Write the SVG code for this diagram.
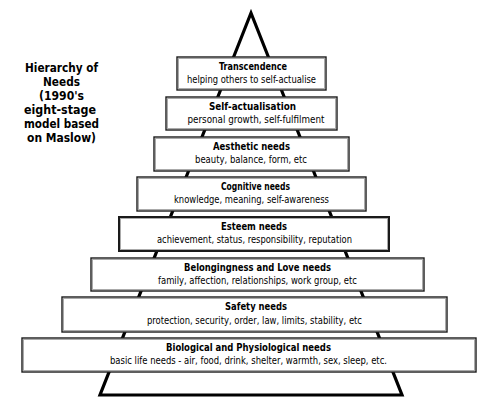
<svg xmlns="http://www.w3.org/2000/svg" width="498" height="412" viewBox="0 0 498 412">
<style>
.box{fill:#fff;stroke:#1a1a1a;stroke-width:1.4}
.inner{fill:none;stroke:#aaa;stroke-width:1}
.t{font-family:"DejaVu Sans Condensed","DejaVu Sans",Verdana,sans-serif;font-weight:bold;font-size:10px;text-anchor:middle;fill:#000}
.s{font-family:"DejaVu Sans Condensed","DejaVu Sans",Verdana,sans-serif;font-size:10px;text-anchor:middle;fill:#000}
.title{font-family:"DejaVu Sans Condensed","DejaVu Sans",Verdana,sans-serif;font-weight:bold;font-size:13px;text-anchor:middle;fill:#000}
</style>
<rect width="498" height="412" fill="#fff"/>
<g id="connectors">
<polygon points="251,13 100,395 402,395" fill="none" stroke="#000" stroke-width="3.2" stroke-linejoin="miter"/>
</g>
<g id="title">
<text class="title" x="61.5" y="72" textLength="73" lengthAdjust="spacingAndGlyphs">Hierarchy of</text>
<text class="title" x="61.5" y="86" textLength="37" lengthAdjust="spacingAndGlyphs">Needs</text>
<text class="title" x="61.5" y="100" textLength="45" lengthAdjust="spacingAndGlyphs">(1990's</text>
<text class="title" x="60" y="114" textLength="72" lengthAdjust="spacingAndGlyphs">eight-stage</text>
<text class="title" x="61.5" y="128" textLength="75" lengthAdjust="spacingAndGlyphs">model based</text>
<text class="title" x="61.5" y="142" textLength="69" lengthAdjust="spacingAndGlyphs">on Maslow)</text>
</g>
<g id="transcendence">
<rect class="box" x="177" y="57" width="149" height="33"/><rect class="inner" x="178.5" y="58.5" width="146" height="30"/>
<text class="t" x="253" y="69.5" textLength="68" lengthAdjust="spacingAndGlyphs">Transcendence</text>
<text class="s" x="251.5" y="82.5" textLength="129" lengthAdjust="spacingAndGlyphs">helping others to self-actualise</text>
</g>
<g id="self-actualisation">
<rect class="box" x="166" y="97" width="171" height="33"/><rect class="inner" x="167.5" y="98.5" width="168" height="30"/>
<text class="t" x="252.5" y="109.5" textLength="87" lengthAdjust="spacingAndGlyphs">Self-actualisation</text>
<text class="s" x="256" y="122.5" textLength="137" lengthAdjust="spacingAndGlyphs">personal growth, self-fulfilment</text>
</g>
<g id="aesthetic">
<rect class="box" x="154" y="137" width="195" height="34"/><rect class="inner" x="155.5" y="138.5" width="192" height="31"/>
<text class="t" x="251.5" y="149.5" textLength="77" lengthAdjust="spacingAndGlyphs">Aesthetic needs</text>
<text class="s" x="251" y="163" textLength="112" lengthAdjust="spacingAndGlyphs">beauty, balance, form, etc</text>
</g>
<g id="cognitive">
<rect class="box" x="137" y="177" width="229" height="34"/><rect class="inner" x="138.5" y="178.5" width="226" height="31"/>
<text class="t" x="255.5" y="189.5" textLength="69" lengthAdjust="spacingAndGlyphs">Cognitive needs</text>
<text class="s" x="251.5" y="203" textLength="155" lengthAdjust="spacingAndGlyphs">knowledge, meaning, self-awareness</text>
</g>
<g id="esteem">
<rect class="box" x="119" y="217" width="270" height="34" style="stroke-width:2"/><rect class="inner" x="120.5" y="218.5" width="267" height="31"/>
<text class="t" x="254" y="229.5" textLength="66" lengthAdjust="spacingAndGlyphs">Esteem needs</text>
<text class="s" x="254.5" y="243" textLength="195" lengthAdjust="spacingAndGlyphs">achievement, status, responsibility, reputation</text>
</g>
<g id="belongingness">
<rect class="box" x="91" y="258" width="333" height="33"/><rect class="inner" x="92.5" y="259.5" width="330" height="30"/>
<text class="t" x="257.5" y="270.5" textLength="147" lengthAdjust="spacingAndGlyphs">Belongingness and Love needs</text>
<text class="s" x="257.5" y="283.5" textLength="199" lengthAdjust="spacingAndGlyphs">family, affection, relationships, work group, etc</text>
</g>
<g id="safety">
<rect class="box" x="62" y="297" width="385" height="35"/><rect class="inner" x="63.5" y="298.5" width="382" height="32"/>
<text class="t" x="256" y="310" textLength="62" lengthAdjust="spacingAndGlyphs">Safety needs</text>
<text class="s" x="254.5" y="323.5" textLength="215" lengthAdjust="spacingAndGlyphs">protection, security, order, law, limits, stability, etc</text>
</g>
<g id="biological">
<rect class="box" x="22" y="338" width="454" height="34"/><rect class="inner" x="23.5" y="339.5" width="451" height="31"/>
<text class="t" x="248.5" y="350.5" textLength="165" lengthAdjust="spacingAndGlyphs">Biological and Physiological needs</text>
<text class="s" x="248.5" y="364" textLength="277" lengthAdjust="spacingAndGlyphs">basic life needs - air, food, drink, shelter, warmth, sex, sleep, etc.</text>
</g>
</svg>
